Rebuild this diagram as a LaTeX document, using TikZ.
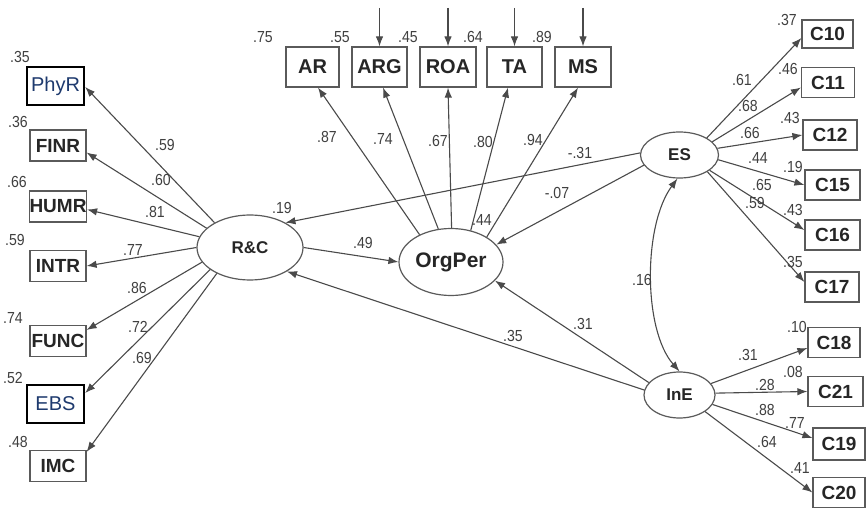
\documentclass[tikz,border=0pt]{standalone}
\usepackage{fontspec}
\setmainfont{Liberation Sans}
\newfontfamily\coeffont[FakeStretch=0.88]{Liberation Sans}
\usetikzlibrary{arrows.meta,shapes.geometric}
\definecolor{linegray}{HTML}{4A4A4A}
\definecolor{boxgray}{HTML}{5A5A5A}
\definecolor{inkblue}{HTML}{1E3A6E}
\begin{document}
\begin{tikzpicture}[x=1pt,y=-1pt,
  obs/.style={draw=boxgray, line width=1.2pt, minimum width=56pt, minimum height=31pt,
    inner sep=0pt, font=\fontsize{19}{19}\selectfont\bfseries, text=black!85},
  topobs/.style={obs, minimum height=40pt, font=\fontsize{20}{20}\selectfont\bfseries},
  rightobs/.style={obs, minimum width=53pt, minimum height=30pt},
  hiobs/.style={draw=black, line width=2.4pt, minimum width=57pt, minimum height=38pt,
    inner sep=0pt, font=\fontsize{20}{20}\selectfont, text=inkblue},
  lat/.style={draw=boxgray, ellipse, line width=1.2pt, inner sep=0pt,
    font=\fontsize{17}{17}\selectfont\bfseries, text=black!85},
  coef/.style={font=\coeffont\fontsize{16}{16}\selectfont, text=black!75, inner sep=0pt},
  arr/.style={draw=linegray, line width=1.1pt, -{Latex[length=10pt,width=7.5pt]}},
  darr/.style={draw=linegray, line width=1.1pt, {Latex[length=10pt,width=7.5pt]}-{Latex[length=10pt,width=7.5pt]}},
]
\fill[white] (0,0) rectangle (866,510);
\useasboundingbox (0,0) rectangle (866,510);

% latent variables
\node[lat, minimum width=106pt, minimum height=65pt] (rc) at (250,247.5) {R\&C};
\node[lat, minimum width=104pt, minimum height=67pt, font=\fontsize{21}{21}\selectfont\bfseries] (op) at (451,262) {OrgPer};
\node[lat, minimum width=78pt, minimum height=46pt] (es) at (679.5,155) {ES};
\node[lat, minimum width=71pt, minimum height=46pt] (ine) at (679.5,395) {InE};

% indicators of R&C
\node[hiobs] (phyr) at (55.5,86) {PhyR};
\node[obs] (finr) at (58,145.5) {FINR};
\node[obs] (humr) at (58,206.5) {HUMR};
\node[obs] (intr) at (58,266) {INTR};
\node[obs] (func) at (58,341) {FUNC};
\node[hiobs] (ebs) at (55.5,404) {EBS};
\node[obs] (imc) at (58,466) {IMC};

% indicators of OrgPer
\node[topobs, minimum width=53pt] (ar) at (312.5,67) {AR};
\node[topobs, minimum width=55pt] (arg) at (379.5,67) {ARG};
\node[topobs] (roa) at (448,67) {ROA};
\node[topobs, minimum width=55pt] (ta) at (514.5,67) {TA};
\node[topobs] (ms) at (583,67) {MS};

% indicators of ES
\node[rightobs, minimum width=51pt, minimum height=28pt] (c10) at (827.5,34) {C10};
\node[rightobs] (c11) at (828,82.5) {C11};
\node[rightobs, minimum width=54pt] (c12) at (830,135) {C12};
\node[rightobs, minimum width=55pt] (c15) at (832.5,185) {C15};
\node[rightobs, minimum width=55pt] (c16) at (832.5,235) {C16};
\node[rightobs, minimum width=54pt] (c17) at (832,287) {C17};

% indicators of InE
\node[rightobs, minimum width=52pt] (c18) at (834,342.5) {C18};
\node[rightobs, minimum width=55pt] (c21) at (835.5,391.5) {C21};
\node[rightobs, minimum width=52pt, minimum height=32pt] (c19) at (839,444) {C19};
\node[rightobs, minimum width=52pt] (c20) at (839,492.5) {C20};

% error terms feeding the top indicators
\coordinate (uarg) at (379.5,8);
\coordinate (uroa) at (448,8);
\coordinate (uta) at (514.5,8);
\coordinate (ums) at (583,8);
\draw[arr] (uarg) -- (arg.north);
\draw[arr] (uroa) -- (roa.north);
\draw[arr] (uta) -- (ta.north);
\draw[arr] (ums) -- (ms.north);

% loadings of R&C
\draw[arr] (rc.145) -- ([yshift=-1pt]phyr.east);
\draw[arr] (rc.156) -- ([yshift=-7pt]finr.east);
\draw[arr] (rc.168) -- ([yshift=-3pt]humr.east);
\draw[arr] (rc.180) -- (intr.east);
\draw[arr] (rc.197) -- ([yshift=11pt]func.east);
\draw[arr] (rc.209) -- ([yshift=11pt]ebs.east);
\draw[arr] (rc.218) -- ([yshift=-2pt]imc.north east);

% loadings of OrgPer
\draw[arr] (op.139) -- ([xshift=5.5pt]ar.south);
\draw[arr] (op.111) -- ([xshift=3.5pt]arg.south);
\draw[arr] (op.89) -- (roa.south);
\draw[arr] (op.58) -- ([xshift=-6.5pt]ta.south);
\draw[arr] (op.35) -- ([xshift=-5pt]ms.south);

% loadings of ES
\draw[arr] (es.32) -- ([yshift=-4pt]c10.west);
\draw[arr] (es.22) -- ([yshift=-5pt]c11.west);
\draw[arr] (es.10) -- (c12.west);
\draw[arr] (es.-7) -- (c15.west);
\draw[arr] (es.-27) -- ([yshift=5pt]c16.west);
\draw[arr] (es.-31) -- ([yshift=5pt]c17.west);

% loadings of InE
\draw[arr] (ine.20) -- ([yshift=-5.5pt]c18.west);
\draw[arr] (ine.3) -- (c21.west);
\draw[arr] (ine.-16) -- ([yshift=6pt]c19.west);
\draw[arr] (ine.-33) -- (c20.west);

% structural paths
\draw[arr] (rc.east) -- (op.west);
\draw[arr] (es.177) -- (rc.35);
\draw[arr] (es.196) -- (op.21);
\draw[arr] (ine.172) -- (rc.-33);
\draw[arr] (ine.158) -- (op.-23);
\draw[darr] (es.-95) .. controls (643,225) and (643,330) .. (ine.north);

% squared multiple correlations
\node[coef] at (20,57) {.35};
\node[coef] at (18,122) {.36};
\node[coef] at (17,182) {.66};
\node[coef] at (15,240) {.59};
\node[coef] at (13,318) {.74};
\node[coef] at (13,378) {.52};
\node[coef] at (18,442) {.48};
\node[coef] at (263,37) {.75};
\node[coef] at (340,37) {.55};
\node[coef] at (408,37) {.45};
\node[coef] at (473,37) {.64};
\node[coef] at (542,37) {.89};
\node[coef] at (787,20) {.37};
\node[coef] at (788,69) {.46};
\node[coef] at (790,118) {.43};
\node[coef] at (793,167) {.19};
\node[coef] at (793,210) {.43};
\node[coef] at (793,262) {.35};
\node[coef] at (797,327) {.10};
\node[coef] at (793,372) {.08};
\node[coef] at (795,423) {.77};
\node[coef] at (800,468) {.41};
\node[coef] at (282,208) {.19};
\node[coef] at (482,220) {.44};

% path coefficients
\node[coef] at (165,145) {.59};
\node[coef] at (161,180) {.60};
\node[coef] at (155,212) {.81};
\node[coef] at (133,250) {.77};
\node[coef] at (137,288) {.86};
\node[coef] at (138,327) {.72};
\node[coef] at (142,358) {.69};
\node[coef] at (327,137) {.87};
\node[coef] at (383,139) {.74};
\node[coef] at (438,141) {.67};
\node[coef] at (483,142) {.80};
\node[coef] at (533,140) {.94};
\node[coef] at (363,243) {.49};
\node[coef] at (580,153) {-.31};
\node[coef] at (557,193) {-.07};
\node[coef] at (583,324) {.31};
\node[coef] at (513,336) {.35};
\node[coef] at (642,280) {.16};
\node[coef] at (742,80) {.61};
\node[coef] at (748,106) {.68};
\node[coef] at (750,133) {.66};
\node[coef] at (758,158) {.44};
\node[coef] at (762,185) {.65};
\node[coef] at (755,203) {.59};
\node[coef] at (748,355) {.31};
\node[coef] at (765,385) {.28};
\node[coef] at (765,410) {.88};
\node[coef] at (767,442) {.64};
\end{tikzpicture}
\end{document}
